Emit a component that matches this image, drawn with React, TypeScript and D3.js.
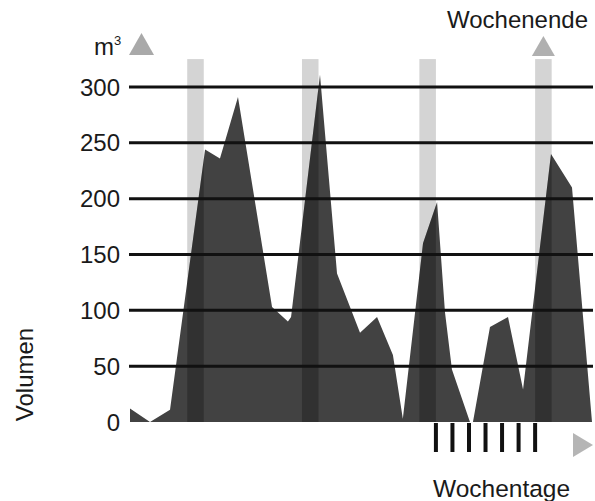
import * as d3 from 'd3';

// day index (0..28) and volume in m³
const days = [0, 1.21, 2.42, 4.54, 5.44, 6.53, 8.59, 9.55, 9.74, 11.49, 12.52, 13.91, 14.94, 15.9, 16.5, 17.72, 18.57, 19.05, 19.47, 20.56, 20.74, 21.77, 22.86, 23.77, 25.46, 26.73, 27.94];
const volume = [12, 0, 11, 244, 236, 291, 103, 90, 94, 311, 133, 80, 94, 60, 3, 160, 197, 98, 47, 0, 0, 85, 94, 29, 240, 210, 0];

const yTicks = [0, 50, 100, 150, 200, 250, 300];
const weekendDays = [3.96, 10.9, 18, 25];
const weekdayTicks = [18.5, 19.5, 20.5, 21.5, 22.5, 23.5, 24.5];

const width = 595;
const height = 501;
const font = '"Liberation Sans", Arial, Helvetica, sans-serif';

export default function App() {
	const x = d3.scaleLinear().domain([0, 28]).range([130, 593]);
	const y = d3.scaleLinear().domain([0, 300]).range([422, 87]);

	const points = days.map((d, i) => ({ day: d, value: volume[i] }));
	const area = d3
		.area<{ day: number; value: number }>()
		.x((d) => x(d.day))
		.y0(y(0))
		.y1((d) => y(d.value));
	const areaPath = area(points) || '';

	const barTop = y(325);
	const triangle = (cx: number, top: number, w: number, h: number) =>
		`M${cx - w / 2},${top + h}L${cx},${top}L${cx + w / 2},${top + h}Z`;

	return (
		<div style={{ position: 'absolute', left: 0, top: 0 }}>
			<svg width={width} height={height} style={{ display: 'block', background: '#fff' }}>
				<defs>
					<clipPath id="areaClip">
						<path d={areaPath} />
					</clipPath>
				</defs>

				{/* weekend columns */}
				{weekendDays.map((d) => (
					<rect key={d} x={x(d - 0.5)} y={barTop} width={x(d + 0.5) - x(d - 0.5)} height={y(0) - barTop} fill="#d4d4d4" />
				))}

				{/* volume area */}
				<path d={areaPath} fill="#424242" />

				{/* weekend columns darker inside area */}
				<g clipPath="url(#areaClip)">
					{weekendDays.map((d) => (
						<rect key={d} x={x(d - 0.5)} y={barTop} width={x(d + 0.5) - x(d - 0.5)} height={y(0) - barTop} fill="#000" opacity={0.25} />
					))}
				</g>

				{/* grid lines */}
				{yTicks
					.filter((t) => t > 0)
					.map((t) => (
						<line key={t} x1={129} x2={593} y1={y(t)} y2={y(t)} stroke="#111" strokeWidth={3} />
					))}

				{/* y tick labels */}
				{yTicks.map((t) => (
					<text key={t} x={120} y={y(t)} dy="0.36em" textAnchor="end" fontFamily={font} fontSize={24} fill="#1a1a1a">
						{t}
					</text>
				))}

				{/* weekday ticks */}
				{weekdayTicks.map((d) => (
					<line key={d} x1={x(d)} x2={x(d)} y1={423} y2={452} stroke="#111" strokeWidth={4} />
				))}

				{/* arrows */}
				<path d={triangle(141.5, 33, 25, 22)} fill="#a9a9a9" />
				<path d={triangle(x(25), 36, 23, 20)} fill="#b0b0b0" />
				<path d="M573,433L593,445L573,457Z" fill="#b5b5b5" />

				{/* labels */}
				<text x={94} y={55} fontFamily={font} fontSize={24} fill="#1a1a1a">
					m<tspan fontSize={13} dy={-10}>3</tspan>
				</text>
				<text x={588} y={28} textAnchor="end" fontFamily={font} fontSize={24} fill="#1a1a1a">
					Wochenende
				</text>
				<text x={433} y={497} fontFamily={font} fontSize={24.5} fill="#1a1a1a">
					Wochentage
				</text>
				<text transform="translate(33,374.5) rotate(-90)" textAnchor="middle" fontFamily={font} fontSize={24} fill="#1a1a1a">
					Volumen
				</text>
			</svg>
		</div>
	);
}
